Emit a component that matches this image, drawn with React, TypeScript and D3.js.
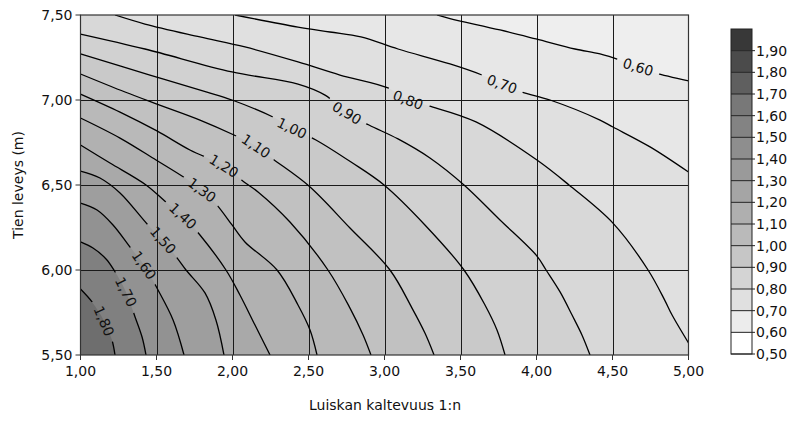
import * as d3 from 'd3'

type Pt = [number, number]

// contour lines, [slope n, road width m]
const c060: Pt[] = [[3.345, 7.5], [3.431, 7.479], [3.76, 7.412], [3.997, 7.359], [4.253, 7.3], [4.418, 7.271], [4.549, 7.235], [4.668, 7.194], [4.78, 7.159], [5.0, 7.112]]
const c070: Pt[] = [[2.017, 7.5], [2.431, 7.429], [2.641, 7.4], [2.845, 7.371], [3.089, 7.3], [3.431, 7.212], [3.641, 7.147], [3.773, 7.094], [3.905, 7.047], [4.089, 7.0], [4.418, 6.882], [4.503, 6.841], [4.747, 6.724], [5.0, 6.576]]
const c080: Pt[] = [[1.227, 7.5], [1.424, 7.447], [1.786, 7.371], [2.082, 7.312], [2.431, 7.224], [2.707, 7.147], [3.023, 7.071], [3.155, 7.0], [3.293, 6.965], [3.602, 6.871], [4.003, 6.647], [4.214, 6.5], [4.503, 6.276], [4.734, 6.0], [4.845, 5.82], [4.892, 5.735], [5.0, 5.571]]
const c090: Pt[] = [[1.0, 7.388], [1.424, 7.3], [1.997, 7.165], [2.431, 7.094], [2.609, 7.029], [2.753, 6.924], [2.898, 6.853], [3.089, 6.771], [3.299, 6.659], [3.523, 6.5], [3.76, 6.294], [4.003, 6.082], [4.063, 6.0], [4.155, 5.871], [4.234, 5.735], [4.299, 5.618], [4.352, 5.5]]
const c100: Pt[] = [[1.0, 7.271], [1.457, 7.147], [1.832, 7.047], [1.997, 7.0], [2.266, 6.9], [2.391, 6.835], [2.549, 6.765], [2.78, 6.635], [2.997, 6.5], [3.266, 6.265], [3.523, 6.0], [3.661, 5.794], [3.74, 5.647], [3.793, 5.5]]
const c110: Pt[] = [[1.0, 7.153], [1.293, 7.047], [1.503, 6.976], [1.786, 6.882], [2.01, 6.794], [2.155, 6.729], [2.266, 6.653], [2.503, 6.494], [2.773, 6.247], [3.036, 6.0], [3.181, 5.776], [3.266, 5.629], [3.326, 5.5]]
const c120: Pt[] = [[1.0, 7.035], [1.26, 6.929], [1.503, 6.818], [1.72, 6.706], [1.944, 6.612], [2.076, 6.518], [2.168, 6.459], [2.378, 6.282], [2.628, 6.0], [2.773, 5.776], [2.859, 5.618], [2.911, 5.5]]
const c130: Pt[] = [[1.0, 6.894], [1.26, 6.776], [1.497, 6.647], [1.688, 6.541], [1.799, 6.471], [1.898, 6.382], [1.997, 6.265], [2.082, 6.165], [2.293, 6.0], [2.431, 5.794], [2.51, 5.647], [2.556, 5.5]]
const c140: Pt[] = [[1.0, 6.735], [1.194, 6.629], [1.431, 6.5], [1.569, 6.394], [1.674, 6.318], [1.786, 6.206], [1.957, 6.0], [2.049, 5.853], [2.148, 5.676], [2.247, 5.5]]
const c150: Pt[] = [[1.0, 6.582], [1.128, 6.541], [1.26, 6.453], [1.444, 6.265], [1.543, 6.176], [1.635, 6.071], [1.694, 6.0], [1.819, 5.865], [1.891, 5.706], [1.944, 5.5]]
const c160: Pt[] = [[1.0, 6.394], [1.109, 6.353], [1.214, 6.265], [1.326, 6.135], [1.418, 6.029], [1.503, 5.894], [1.609, 5.706], [1.681, 5.5]]
const c170: Pt[] = [[1.0, 6.165], [1.082, 6.129], [1.168, 6.065], [1.22, 6.0], [1.299, 5.871], [1.359, 5.724], [1.405, 5.606], [1.431, 5.5]]
const c180: Pt[] = [[1.0, 5.888], [1.076, 5.812], [1.155, 5.7], [1.207, 5.588], [1.227, 5.5]]

const levels = [0.6, 0.7, 0.8, 0.9, 1.0, 1.1, 1.2, 1.3, 1.4, 1.5, 1.6, 1.7, 1.8]
const contours = [c060, c070, c080, c090, c100, c110, c120, c130, c140, c150, c160, c170, c180]
// where the value label sits on each line
const labelPos: Pt[] = [[4.668, 7.194], [3.773, 7.094], [3.155, 7.0], [2.753, 6.924], [2.391, 6.835], [2.155, 6.729], [1.944, 6.612], [1.799, 6.471], [1.674, 6.318], [1.543, 6.176], [1.418, 6.029], [1.299, 5.871], [1.155, 5.7]]

const xTicks = [1, 1.5, 2, 2.5, 3, 3.5, 4, 4.5, 5]
const yTicks = [5.5, 6, 6.5, 7, 7.5]
const barTicks = [0.5, 0.6, 0.7, 0.8, 0.9, 1.0, 1.1, 1.2, 1.3, 1.4, 1.5, 1.6, 1.7, 1.8, 1.9]
const barColors = ['#ffffff', '#ececec', '#e0e0e0', '#d4d4d4', '#c6c6c6', '#bababa', '#afafaf', '#a5a5a5', '#9a9a9a', '#8e8e8e', '#838383', '#787878', '#5f5f5f', '#4b4b4b', '#383838']

const W = 790
const H = 423
const FONT = 'DejaVu Sans, Verdana, sans-serif'

const fmt = (v: number) => v.toFixed(2).replace('.', ',')

export default function App() {
  const x = d3.scaleLinear().domain([1, 5]).range([80.5, 688.5])
  const y = d3.scaleLinear().domain([5.5, 7.5]).range([355, 15])
  const [x0, x1] = x.range()
  const [y0, y1] = y.range()

  // smooth gray fill for the plot area, darker for higher values
  const fill = d3.scaleLinear<string>()
    .domain([0.55, 0.75, 1.05, 1.45, 1.65, 1.85])
    .range(['#eeeeee', '#e0e0e0', '#c9c9c9', '#a9a9a9', '#929292', '#6e6e6e'])

  const line = d3.line<Pt>()
    .x(d => x(d[0]))
    .y(d => y(d[1]))
    .curve(d3.curveCatmullRom.alpha(0.5))

  // region with value below the level = everything top-right of the line
  const regionPath = (pts: Pt[]) => {
    const first = pts[0]
    const last = pts[pts.length - 1]
    const corners: Pt[] = []
    if (last[1] <= 5.5001 && last[0] < 4.999) corners.push([5, 5.5])
    corners.push([5, 7.5])
    if (first[0] <= 1.0001) corners.push([1, 7.5])
    return line(pts) + corners.map(c => `L${x(c[0])},${y(c[1])}`).join('') + 'Z'
  }

  const labelAngle = (pts: Pt[], p: Pt) => {
    const px = x(p[0]), py = y(p[1])
    let best = 0, bestD = Infinity
    for (let i = 0; i < pts.length - 1; i++) {
      const mx = (x(pts[i][0]) + x(pts[i + 1][0])) / 2
      const my = (y(pts[i][1]) + y(pts[i + 1][1])) / 2
      const dd = (mx - px) ** 2 + (my - py) ** 2
      if (dd < bestD) { bestD = dd; best = i }
    }
    const a = pts[Math.max(0, best - 1)]
    const b = pts[Math.min(pts.length - 1, best + 2)]
    return Math.atan2(y(b[1]) - y(a[1]), x(b[0]) - x(a[0])) * 180 / Math.PI
  }

  const labels = levels.map((lv, i) => ({
    text: fmt(lv),
    cx: x(labelPos[i][0]),
    cy: y(labelPos[i][1]),
    angle: labelAngle(contours[i], labelPos[i]),
  }))

  // colour bar
  const bar = d3.scaleLinear().domain([0.5, 2.0]).range([354, 29])
  const barX = 731
  const barW = 21

  const order = d3.range(levels.length).reverse()

  return (
    <svg width={W} height={H} style={{ position: 'absolute', left: 0, top: 0, background: '#fff' }} fontFamily={FONT}>
      <defs>
        <clipPath id="plot-clip">
          <rect x={x0} y={y1} width={x1 - x0} height={y0 - y1} />
        </clipPath>
        <mask id="label-mask" maskUnits="userSpaceOnUse" x={0} y={0} width={W} height={H}>
          <rect x={0} y={0} width={W} height={H} fill="#fff" />
          {labels.map((l, i) => (
            <rect key={i} x={-l.text.length * 4.8 - 3} y={-7} width={l.text.length * 9.6 + 6} height={14} fill="#000"
              transform={`translate(${l.cx},${l.cy}) rotate(${l.angle})`} />
          ))}
        </mask>
      </defs>

      <g clipPath="url(#plot-clip)">
        <rect x={x0} y={y1} width={x1 - x0} height={y0 - y1} fill={fill(1.85)} />
        {order.map(i => (
          <path key={i} d={regionPath(contours[i])} fill={fill(levels[i] - 0.05)} stroke="none" />
        ))}
      </g>

      {/* grid */}
      <g stroke="#1a1a1a" strokeWidth={1}>
        {xTicks.slice(1, -1).map(t => (
          <line key={t} x1={Math.round(x(t)) + 0.5} x2={Math.round(x(t)) + 0.5} y1={y1} y2={y0} />
        ))}
        {yTicks.slice(1, -1).map(t => (
          <line key={t} x1={x0} x2={x1} y1={Math.round(y(t)) + 0.5} y2={Math.round(y(t)) + 0.5} />
        ))}
      </g>

      {/* contour lines */}
      <g clipPath="url(#plot-clip)">
        <g mask="url(#label-mask)" fill="none" stroke="#000" strokeWidth={1.3}>
          {contours.map((c, i) => <path key={i} d={line(c) || ''} />)}
        </g>
      </g>
      <g fontSize={14} fill="#111">
        {labels.map((l, i) => (
          <text key={i} transform={`translate(${l.cx},${l.cy}) rotate(${l.angle})`} textAnchor="middle" dy="0.36em">{l.text}</text>
        ))}
      </g>

      {/* frame */}
      <rect x={x0} y={y1} width={x1 - x0} height={y0 - y1} fill="none" stroke="#333" strokeWidth={1.2} />

      {/* axes */}
      <g fontSize={14} fill="#111">
        {xTicks.map(t => (
          <g key={t} transform={`translate(${x(t)},0)`}>
            <line y1={y0} y2={y0 + 5} stroke="#333" />
            <text y={y0 + 21} textAnchor="middle">{fmt(t)}</text>
          </g>
        ))}
        {yTicks.map(t => (
          <g key={t} transform={`translate(0,${y(t)})`}>
            <line x1={x0 - 5} x2={x0} stroke="#333" />
            <text x={x0 - 8} dy="0.36em" textAnchor="end">{fmt(t)}</text>
          </g>
        ))}
      </g>
      <text x={385} y={410} textAnchor="middle" fontSize={14} fill="#111">Luiskan kaltevuus 1:n</text>
      <text transform={`translate(23,${(y0 + y1) / 2}) rotate(-90)`} textAnchor="middle" fontSize={14} fill="#111">Tien leveys (m)</text>

      {/* colour bar */}
      <g>
        {barColors.map((c, i) => (
          <rect key={i} x={barX} y={bar(0.6 + i * 0.1)} width={barW} height={bar(0.5 + i * 0.1) - bar(0.6 + i * 0.1)} fill={c} />
        ))}
        <rect x={barX} y={bar(2.0)} width={barW} height={bar(0.5) - bar(2.0)} fill="none" stroke="#222" />
        {barTicks.map(t => (
          <g key={t} transform={`translate(0,${bar(t)})`}>
            <line x1={barX} x2={barX + barW + 3} stroke="#222" />
            <text x={barX + barW + 4} dy="0.36em" fontSize={14} fill="#111">{fmt(t)}</text>
          </g>
        ))}
      </g>
    </svg>
  )
}
